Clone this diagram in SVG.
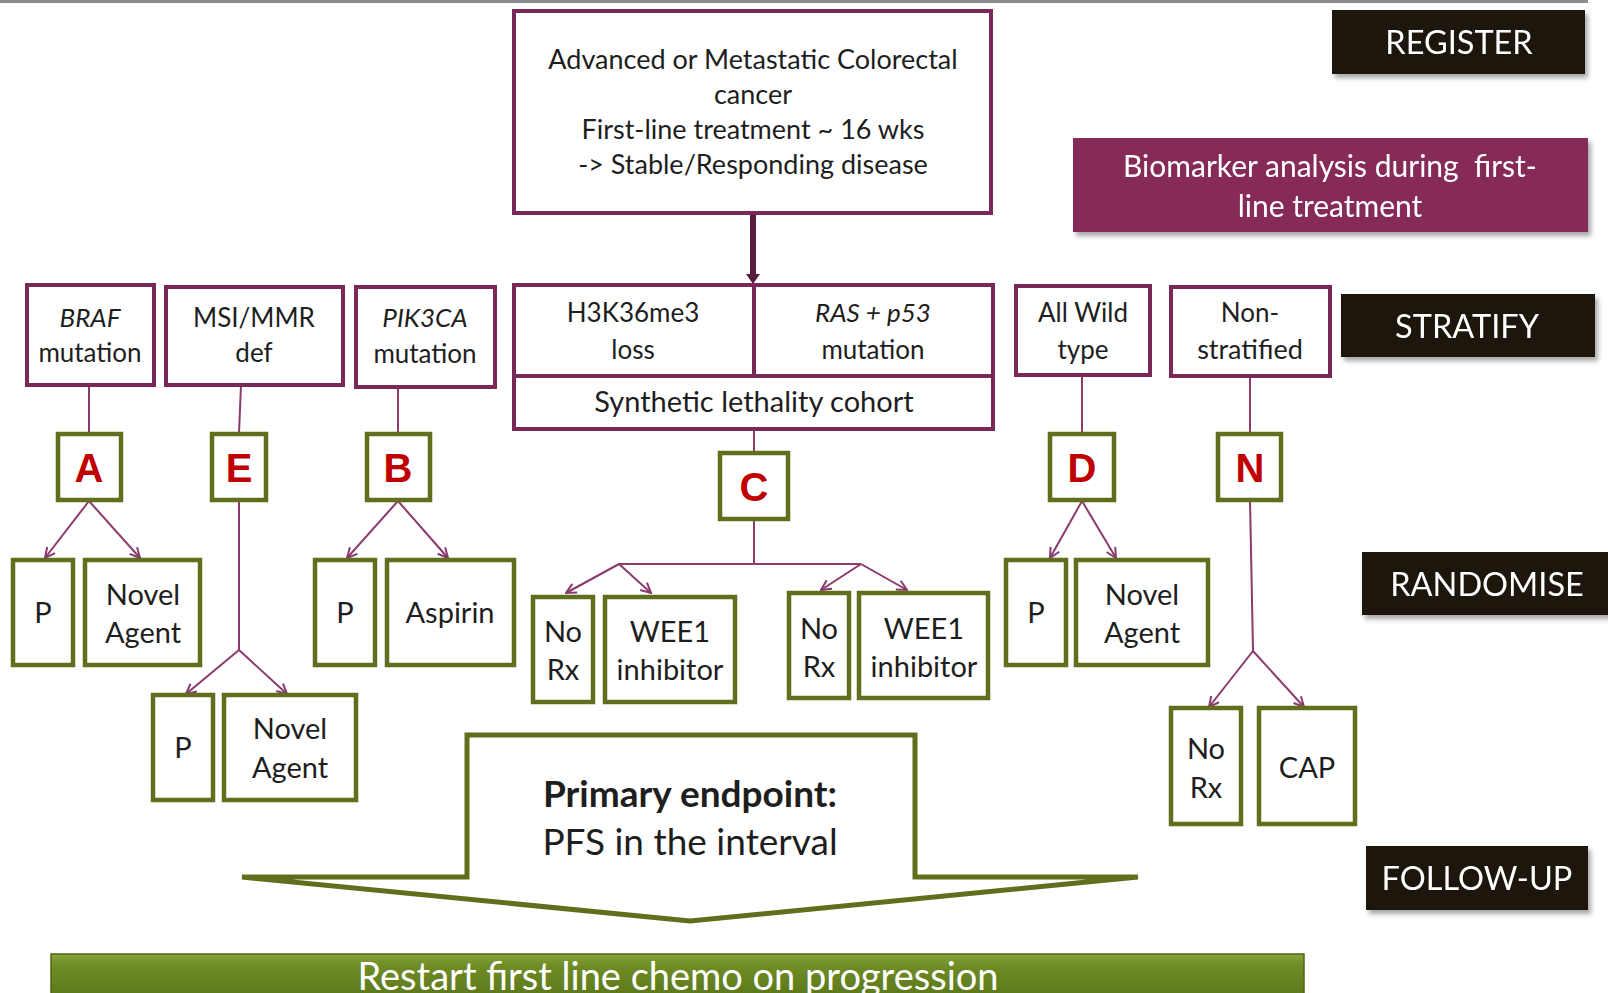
<svg xmlns="http://www.w3.org/2000/svg" width="1608" height="993" viewBox="0 0 1608 993">
  <defs>
    <style>
      .maroon { fill: #ffffff; stroke: #7a2856; stroke-width: 4; }
      .green { fill: #ffffff; stroke: #5f6f1e; stroke-width: 4.5; }
      .phase { fill: #1d130b; }
      .txt { font-family: Lato, "Open Sans", sans-serif; fill: #1e1e1e; text-anchor: middle; }
      .lbl { font-family: Lato, "Open Sans", sans-serif; fill: #ffffff; text-anchor: middle; }
      .s24 { font-size: 26px; }
      .s27 { font-size: 29px; }
      .letter { font-family: "Liberation Sans", Arial, sans-serif; font-weight: bold; fill: #c00000; text-anchor: middle; font-size: 40px; }
      .conn { stroke: #8a3a6c; stroke-width: 2; fill: none; }
      .arr { marker-end: url(#vhead); }
    </style>
    <marker id="vhead" viewBox="0 0 12 12" refX="11" refY="6" markerWidth="12" markerHeight="12" markerUnits="userSpaceOnUse" orient="auto">
      <path d="M1,1 L11,6 L1,11" fill="none" stroke="#8a3a6c" stroke-width="2"/>
    </marker>
    <filter id="shadow" x="-10%" y="-20%" width="125%" height="150%">
      <feDropShadow dx="3" dy="4" stdDeviation="2.5" flood-color="#000000" flood-opacity="0.35"/>
    </filter>
    <linearGradient id="barFill" x1="0" y1="0" x2="0" y2="1">
      <stop offset="0" stop-color="#8aa53c"/>
      <stop offset="0.25" stop-color="#6f8c26"/>
      <stop offset="1" stop-color="#5a761a"/>
    </linearGradient>
  </defs>

  <rect width="1608" height="993" fill="#ffffff"/>
  <line x1="0" y1="1.5" x2="1588" y2="1.5" stroke="#8c8c8c" stroke-width="3"/>

  <!-- phase labels -->
  <g id="register" filter="url(#shadow)">
    <rect class="phase" x="1332" y="10" width="253" height="64"/>
    <text class="lbl" x="1459" y="54" font-size="32.5">REGISTER</text>
  </g>
  <g id="biomarker" filter="url(#shadow)">
    <rect x="1073" y="138" width="515" height="94" fill="#862c58"/>
    <text class="lbl" x="1330" y="177" font-size="30" fill="#f6e6ee" xml:space="preserve">Biomarker analysis during  first-</text>
    <text class="lbl" x="1330" y="217" font-size="30" fill="#f6e6ee">line treatment</text>
  </g>
  <g id="stratify" filter="url(#shadow)">
    <rect class="phase" x="1341" y="294" width="254" height="63"/>
    <text class="lbl" x="1467" y="338" font-size="32.5">STRATIFY</text>
  </g>
  <g id="randomise" filter="url(#shadow)">
    <rect class="phase" x="1362" y="552" width="250" height="63"/>
    <text class="lbl" x="1487" y="596" font-size="32.5">RANDOMISE</text>
  </g>
  <g id="followup" filter="url(#shadow)">
    <rect class="phase" x="1366" y="846" width="222" height="64"/>
    <text class="lbl" x="1477" y="890" font-size="32.5">FOLLOW-UP</text>
  </g>

  <!-- connectors -->
  <g id="connectors">
    <line x1="753" y1="213" x2="753" y2="276" stroke="#5a1c3e" stroke-width="6"/>
    <path d="M746,274 L760,274 L753,284 Z" fill="#5a1c3e"/>

    <line class="conn" x1="89" y1="385" x2="89" y2="433"/>
    <line class="conn" x1="241" y1="385" x2="239" y2="433"/>
    <line class="conn" x1="398" y1="387" x2="398" y2="433"/>
    <line class="conn" x1="754" y1="429" x2="754" y2="452"/>
    <line class="conn" x1="1082" y1="375" x2="1082" y2="433"/>
    <line class="conn" x1="1250" y1="376" x2="1250" y2="433"/>

    <line class="conn arr" x1="89" y1="501" x2="45" y2="558"/>
    <line class="conn arr" x1="89" y1="501" x2="140" y2="558"/>

    <line class="conn" x1="239" y1="500" x2="239" y2="650"/>
    <line class="conn arr" x1="239" y1="650" x2="186" y2="694"/>
    <line class="conn arr" x1="239" y1="650" x2="287" y2="694"/>

    <line class="conn arr" x1="398" y1="501" x2="347" y2="558"/>
    <line class="conn arr" x1="398" y1="501" x2="448" y2="558"/>

    <line class="conn" x1="754" y1="520" x2="754" y2="564"/>
    <line class="conn" x1="619" y1="564" x2="861" y2="564"/>
    <line class="conn arr" x1="619" y1="564" x2="566" y2="593"/>
    <line class="conn arr" x1="619" y1="564" x2="651" y2="593"/>
    <line class="conn arr" x1="861" y1="564" x2="821" y2="590"/>
    <line class="conn arr" x1="861" y1="564" x2="907" y2="590"/>

    <line class="conn arr" x1="1082" y1="501" x2="1050" y2="558"/>
    <line class="conn arr" x1="1082" y1="501" x2="1116" y2="558"/>

    <line class="conn" x1="1250" y1="500" x2="1253" y2="651"/>
    <line class="conn arr" x1="1253" y1="651" x2="1209" y2="707"/>
    <line class="conn arr" x1="1253" y1="651" x2="1304" y2="707"/>
  </g>

  <!-- entry -->
  <g id="entry">
    <rect class="maroon" x="514" y="11" width="477" height="202"/>
    <text class="txt" x="753" y="69" font-size="27">Advanced or Metastatic Colorectal</text>
    <text class="txt" x="753" y="104" font-size="27">cancer</text>
    <text class="txt" x="753" y="139" font-size="27">First-line treatment ~ 16 wks</text>
    <text class="txt" x="753" y="174" font-size="27">-&gt; Stable/Responding disease</text>
  </g>

  <!-- stratification cohorts -->
  <g id="braf">
    <rect class="maroon" x="27" y="285" width="127" height="100"/>
    <text class="txt s24" x="90" y="327" font-style="italic">BRAF</text>
    <text class="txt s24" x="90" y="362">mutation</text>
  </g>
  <g id="msi">
    <rect class="maroon" x="166" y="287" width="177" height="98"/>
    <text class="txt s24" x="254" y="327">MSI/MMR</text>
    <text class="txt s24" x="254" y="362">def</text>
  </g>
  <g id="pik3ca">
    <rect class="maroon" x="356" y="287" width="139" height="100"/>
    <text class="txt s24" x="425" y="327" font-style="italic">PIK3CA</text>
    <text class="txt s24" x="425" y="363">mutation</text>
  </g>
  <g id="synthetic">
    <rect class="maroon" x="514" y="285" width="479" height="144"/>
    <line x1="514" y1="376" x2="993" y2="376" stroke="#7a2856" stroke-width="4"/>
    <line x1="754" y1="285" x2="754" y2="376" stroke="#7a2856" stroke-width="4"/>
    <text class="txt s24" x="633" y="322">H3K36me3</text>
    <text class="txt s24" x="633" y="359">loss</text>
    <text class="txt s24" x="873" y="322" font-style="italic">RAS + p53</text>
    <text class="txt s24" x="873" y="359">mutation</text>
    <text class="txt" x="754" y="412" font-size="29">Synthetic lethality cohort</text>
  </g>
  <g id="wildtype">
    <rect class="maroon" x="1016" y="286" width="134" height="89"/>
    <text class="txt s24" x="1083" y="322">All Wild</text>
    <text class="txt s24" x="1083" y="359">type</text>
  </g>
  <g id="nonstratified">
    <rect class="maroon" x="1171" y="287" width="159" height="89"/>
    <text class="txt s24" x="1250" y="322">Non-</text>
    <text class="txt" x="1250" y="359" font-size="27">stratified</text>
  </g>

  <!-- arm letters -->
  <g id="armA"><rect class="green" x="58" y="434" width="63" height="66"/><text class="letter" x="89" y="482">A</text></g>
  <g id="armE"><rect class="green" x="212" y="434" width="54" height="66"/><text class="letter" x="239" y="482">E</text></g>
  <g id="armB"><rect class="green" x="367" y="434" width="63" height="66"/><text class="letter" x="398" y="482">B</text></g>
  <g id="armC"><rect class="green" x="720" y="453" width="68" height="66"/><text class="letter" x="754" y="501">C</text></g>
  <g id="armD"><rect class="green" x="1050" y="434" width="64" height="66"/><text class="letter" x="1082" y="482">D</text></g>
  <g id="armN"><rect class="green" x="1218" y="434" width="63" height="66"/><text class="letter" x="1250" y="482">N</text></g>

  <!-- randomised treatments -->
  <g id="a-placebo"><rect class="green" x="13" y="560" width="60" height="105"/><text class="txt s27" x="43" y="623">P</text></g>
  <g id="a-novel"><rect class="green" x="85" y="560" width="115" height="105"/>
    <text class="txt s27" x="143" y="605">Novel</text><text class="txt s27" x="143" y="643">Agent</text></g>

  <g id="e-placebo"><rect class="green" x="153" y="695" width="60" height="105"/><text class="txt s27" x="183" y="758">P</text></g>
  <g id="e-novel"><rect class="green" x="224" y="695" width="132" height="105"/>
    <text class="txt s27" x="290" y="739">Novel</text><text class="txt s27" x="290" y="778">Agent</text></g>

  <g id="b-placebo"><rect class="green" x="315" y="560" width="60" height="105"/><text class="txt s27" x="345" y="623">P</text></g>
  <g id="b-aspirin"><rect class="green" x="387" y="560" width="127" height="105"/><text class="txt s27" x="450" y="623">Aspirin</text></g>

  <g id="c-norx-1"><rect class="green" x="533" y="597" width="60" height="105"/>
    <text class="txt s27" x="563" y="642">No</text><text class="txt s27" x="563" y="680">Rx</text></g>
  <g id="c-wee1-1"><rect class="green" x="605" y="597" width="130" height="105"/>
    <text class="txt s27" x="670" y="642">WEE1</text><text class="txt s27" x="670" y="680">inhibitor</text></g>
  <g id="c-norx-2"><rect class="green" x="789" y="593" width="60" height="105"/>
    <text class="txt s27" x="819" y="639">No</text><text class="txt s27" x="819" y="677">Rx</text></g>
  <g id="c-wee1-2"><rect class="green" x="859" y="593" width="129" height="105"/>
    <text class="txt s27" x="924" y="639">WEE1</text><text class="txt s27" x="924" y="677">inhibitor</text></g>

  <g id="d-placebo"><rect class="green" x="1006" y="560" width="60" height="105"/><text class="txt s27" x="1036" y="623">P</text></g>
  <g id="d-novel"><rect class="green" x="1076" y="560" width="132" height="105"/>
    <text class="txt s27" x="1142" y="605">Novel</text><text class="txt s27" x="1142" y="643">Agent</text></g>

  <g id="n-norx"><rect class="green" x="1171" y="708" width="70" height="116"/>
    <text class="txt s27" x="1206" y="759">No</text><text class="txt s27" x="1206" y="798">Rx</text></g>
  <g id="n-cap"><rect class="green" x="1259" y="708" width="96" height="116"/><text class="txt s27" x="1307" y="778">CAP</text></g>

  <!-- primary endpoint arrow -->
  <g id="endpoint">
    <path d="M467,735 L915,735 L915,877 L1138,877 L690,921 L242,877 L467,877 Z" fill="#ffffff" stroke="#5f6f1e" stroke-width="5" stroke-linejoin="miter"/>
    <text class="txt" x="690" y="807" font-size="37" font-weight="bold" fill="#111111">Primary endpoint:</text>
    <text class="txt" x="690" y="855" font-size="37" fill="#111111">PFS in the interval</text>
  </g>

  <!-- progression bar -->
  <g id="progression">
    <rect x="51" y="954" width="1253" height="45" fill="url(#barFill)" stroke="#4e6616" stroke-width="1.5"/>
    <text class="lbl" x="678" y="990" font-size="38" fill="#f4f7ea">Restart first line chemo on progression</text>
  </g>
</svg>
